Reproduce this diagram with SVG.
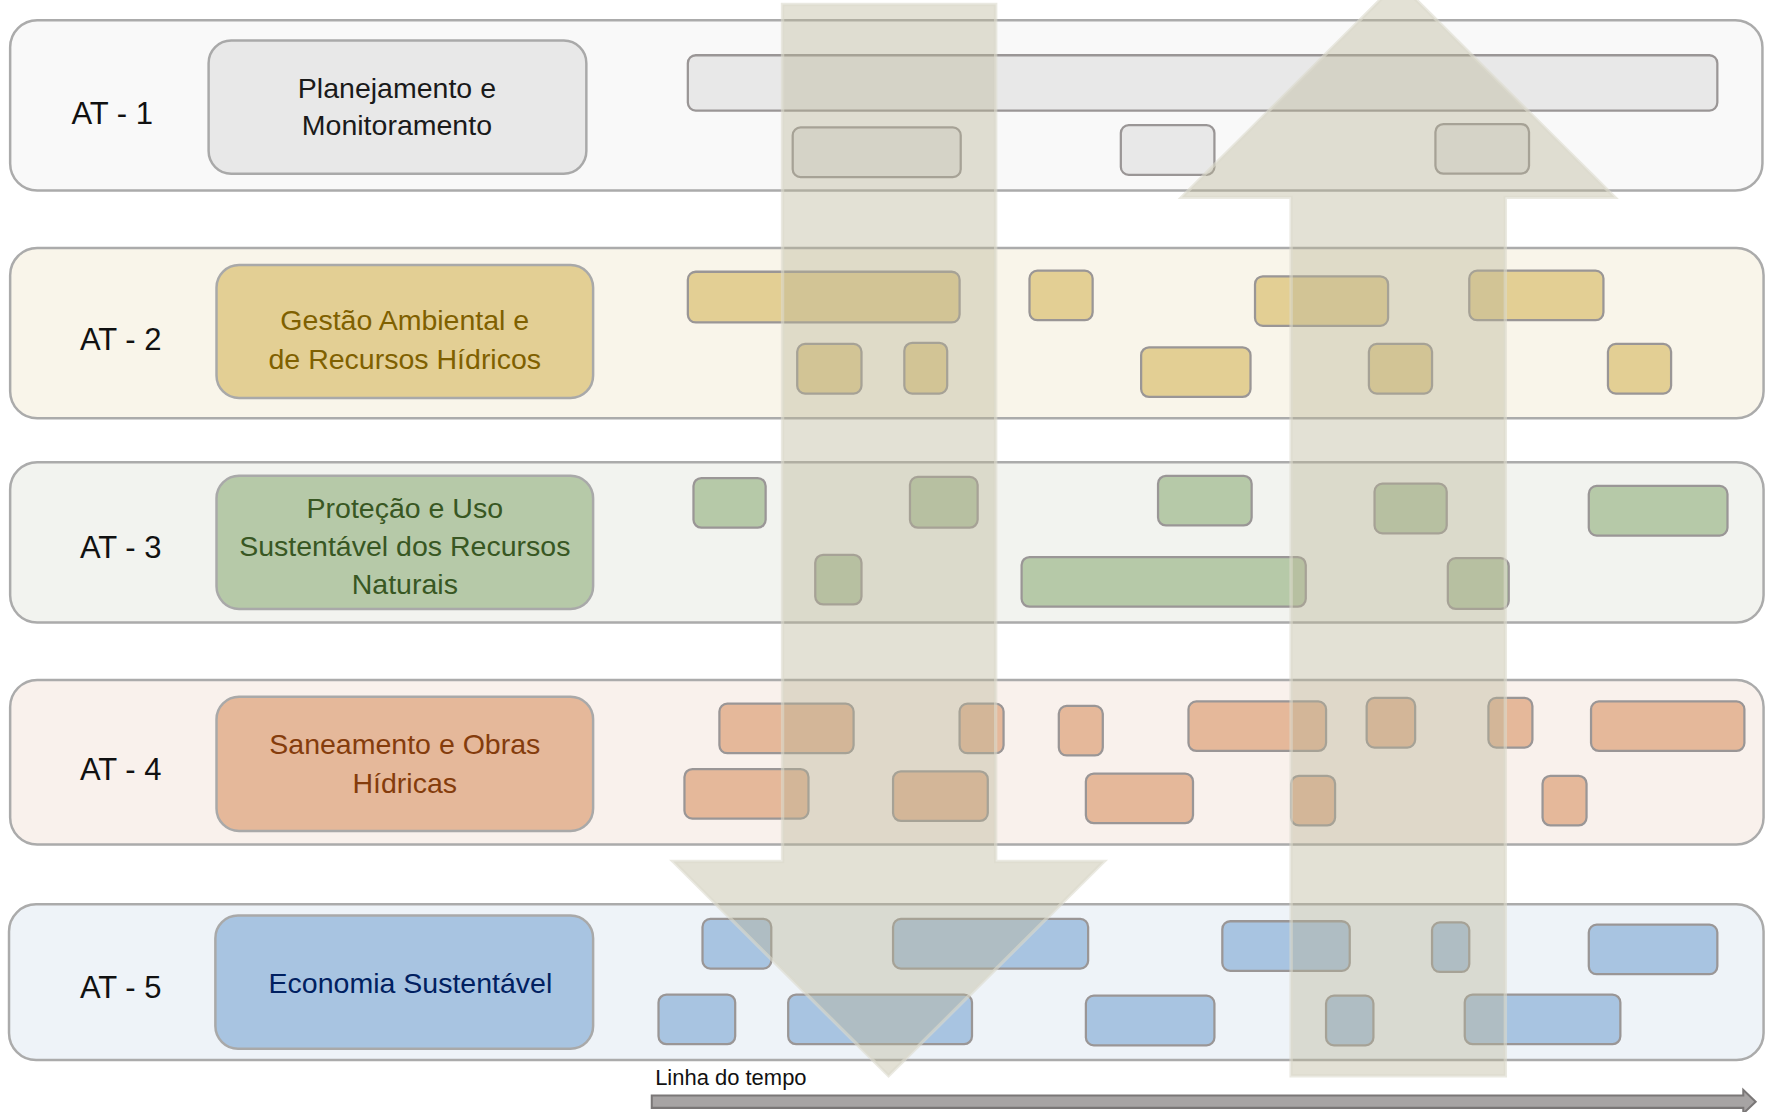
<svg xmlns="http://www.w3.org/2000/svg" width="1767" height="1112" viewBox="0 0 1767 1112">
<style>
.row{stroke:#ababab;stroke-width:2.2}
.lbl{stroke:#a9a9a9;stroke-width:2.2}
.bar{stroke:#9a9696;stroke-width:2}
.at{font-family:"Liberation Sans",Arial,sans-serif;font-size:27.5px;fill:#111;text-anchor:middle}
.t{font-family:"Liberation Sans",Arial,sans-serif;font-size:25.3px;text-anchor:middle}
.big{fill:rgb(186,180,150);fill-opacity:0.4;stroke:rgb(220,218,205);stroke-opacity:0.6;stroke-width:3}
.g1{fill:#e8e8e8}.g2{fill:#e3cf94}.g3{fill:#b6c9a8}.g4{fill:#e5b89a}.g5{fill:#a8c4e1}
</style>
<rect width="1767" height="1112" fill="#ffffff"/>
<g transform="scale(1.1276)">
<g id="row1">
<rect class="row" x="9" y="18" width="1554" height="151" rx="24" fill="#f9f9f9"/>
<text class="at" x="99.5" y="110">AT - 1</text>
<rect class="lbl g1" x="185" y="36" width="335" height="118" rx="20"/>
<text class="t" fill="#1a1a1a"><tspan x="352" y="87">Planejamento e</tspan><tspan x="352" y="120">Monitoramento</tspan></text>
<rect class="bar g1" x="610" y="49" width="913" height="49" rx="7"/>
<rect class="bar g1" x="703" y="113" width="149" height="44" rx="7"/>
<rect class="bar g1" x="994" y="111" width="83" height="44" rx="7"/>
<rect class="bar g1" x="1273" y="110" width="83" height="44" rx="7"/>
</g>
<g id="row2">
<rect class="row" x="9" y="220" width="1555" height="151" rx="24" fill="#f9f5ea"/>
<text class="at" x="107" y="310">AT - 2</text>
<rect class="lbl g2" x="192" y="235" width="334" height="118" rx="20"/>
<text class="t" fill="#7f6000"><tspan x="359" y="293">Gestão Ambiental e</tspan><tspan x="359" y="327">de Recursos Hídricos</tspan></text>
<rect class="bar g2" x="610" y="241" width="241" height="45" rx="7"/>
<rect class="bar g2" x="913" y="240" width="56" height="44" rx="7"/>
<rect class="bar g2" x="1113" y="245" width="118" height="44" rx="7"/>
<rect class="bar g2" x="1303" y="240" width="119" height="44" rx="7"/>
<rect class="bar g2" x="707" y="305" width="57" height="44" rx="7"/>
<rect class="bar g2" x="802" y="304" width="38" height="45" rx="7"/>
<rect class="bar g2" x="1012" y="308" width="97" height="44" rx="7"/>
<rect class="bar g2" x="1214" y="305" width="56" height="44" rx="7"/>
<rect class="bar g2" x="1426" y="305" width="56" height="44" rx="7"/>
</g>
<g id="row3">
<rect class="row" x="9" y="410" width="1555" height="142" rx="24" fill="#f2f3ef"/>
<text class="at" x="107" y="495">AT - 3</text>
<rect class="lbl g3" x="192" y="422" width="334" height="118" rx="20"/>
<text class="t" fill="#385723"><tspan x="359" y="459">Proteção e Uso</tspan><tspan x="359" y="493">Sustentável dos Recursos</tspan><tspan x="359" y="527">Naturais</tspan></text>
<rect class="bar g3" x="615" y="424" width="64" height="44" rx="7"/>
<rect class="bar g3" x="807" y="423" width="60" height="45" rx="7"/>
<rect class="bar g3" x="1027" y="422" width="83" height="44" rx="7"/>
<rect class="bar g3" x="1219" y="429" width="64" height="44" rx="7"/>
<rect class="bar g3" x="1409" y="431" width="123" height="44" rx="7"/>
<rect class="bar g3" x="723" y="492" width="41" height="44" rx="7"/>
<rect class="bar g3" x="906" y="494" width="252" height="44" rx="7"/>
<rect class="bar g3" x="1284" y="495" width="54" height="45" rx="7"/>
</g>
<g id="row4">
<rect class="row" x="9" y="603" width="1555" height="146" rx="24" fill="#f9f1ec"/>
<text class="at" x="107" y="692">AT - 4</text>
<rect class="lbl g4" x="192" y="618" width="334" height="119" rx="20"/>
<text class="t" fill="#843c0c"><tspan x="359" y="669">Saneamento e Obras</tspan><tspan x="359" y="703">Hídricas</tspan></text>
<rect class="bar g4" x="638" y="624" width="119" height="44" rx="7"/>
<rect class="bar g4" x="851" y="624" width="39" height="44" rx="7"/>
<rect class="bar g4" x="939" y="626" width="39" height="44" rx="7"/>
<rect class="bar g4" x="1054" y="622" width="122" height="44" rx="7"/>
<rect class="bar g4" x="1212" y="619" width="43" height="44" rx="7"/>
<rect class="bar g4" x="1320" y="619" width="39" height="44" rx="7"/>
<rect class="bar g4" x="1411" y="622" width="136" height="44" rx="7"/>
<rect class="bar g4" x="607" y="682" width="110" height="44" rx="7"/>
<rect class="bar g4" x="792" y="684" width="84" height="44" rx="7"/>
<rect class="bar g4" x="963" y="686" width="95" height="44" rx="7"/>
<rect class="bar g4" x="1145" y="688" width="39" height="44" rx="7"/>
<rect class="bar g4" x="1368" y="688" width="39" height="44" rx="7"/>
</g>
<g id="row5">
<rect class="row" x="8" y="802" width="1556" height="138" rx="24" fill="#eef3f8"/>
<text class="at" x="107" y="885">AT - 5</text>
<rect class="lbl g5" x="191" y="812" width="335" height="118" rx="20"/>
<text class="t" fill="#002060" x="364" y="881">Economia Sustentável</text>
<rect class="bar g5" x="623" y="815" width="61" height="44" rx="7"/>
<rect class="bar g5" x="792" y="815" width="173" height="44" rx="7"/>
<rect class="bar g5" x="1084" y="817" width="113" height="44" rx="7"/>
<rect class="bar g5" x="1270" y="818" width="33" height="44" rx="7"/>
<rect class="bar g5" x="1409" y="820" width="114" height="44" rx="7"/>
<rect class="bar g5" x="584" y="882" width="68" height="44" rx="7"/>
<rect class="bar g5" x="699" y="882" width="163" height="44" rx="7"/>
<rect class="bar g5" x="963" y="883" width="114" height="44" rx="7"/>
<rect class="bar g5" x="1176" y="883" width="42" height="44" rx="7"/>
<rect class="bar g5" x="1299" y="882" width="138" height="44" rx="7"/>
</g>
<g id="connectors">
<path class="big" d="M694,4 H883 V764 H979 L788,954 L597,764 H694 Z"/>
<path class="big" d="M1145,954 H1335 V175 H1432 L1240,-16 L1048,175 H1145 Z"/>
<text x="581" y="962" font-family="Liberation Sans,Arial,sans-serif" font-size="19.5" fill="#111">Linha do tempo</text>
<path d="M578,971.5 H1546 V966.5 L1557,977 L1546,987.5 V982.5 H578 Z" fill="#a7a4a4" stroke="#7a7777" stroke-width="1.8"/>
</g>
</g>
</svg>
